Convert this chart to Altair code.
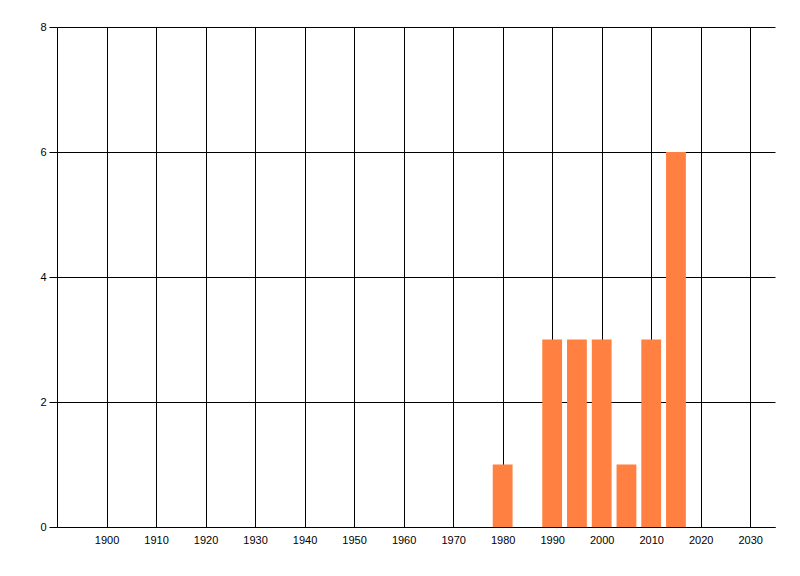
import altair as alt
import pandas as pd

years = [1980, 1990, 1995, 2000, 2005, 2010, 2015]
counts = [1, 3, 3, 3, 1, 3, 6]
x_ticks = [1900, 1910, 1920, 1930, 1940, 1950, 1960, 1970, 1980, 1990, 2000, 2010, 2020, 2030]
y_ticks = [0, 2, 4, 6, 8]
half_width = 2

df = pd.DataFrame({"year": years, "count": counts})
df["x0"] = df["year"] - half_width
df["x1"] = df["year"] + half_width
df["base"] = 0

font = "Liberation Sans"

chart = alt.Chart(df).mark_rect(color="#FF8040", opacity=1).encode(
    x=alt.X("x0:Q", scale=alt.Scale(domain=[1890, 2035], nice=False, zero=False),
            axis=alt.Axis(values=x_ticks, format="d", title=None, grid=True,
                          gridColor="black", gridOpacity=1, gridWidth=1,
                          domainColor="black", domainWidth=1, tickSize=0,
                          labelPadding=7, labelFont=font, labelFontSize=11,
                          labelColor="black", labelFlush=False)),
    x2="x1:Q",
    y=alt.Y("count:Q", scale=alt.Scale(domain=[0, 8], nice=False),
            axis=alt.Axis(values=y_ticks, title=None, grid=True,
                          gridColor="black", gridOpacity=1, gridWidth=1,
                          domainColor="black", domainWidth=1, tickSize=8,
                          tickColor="black", labelPadding=3, labelFont=font,
                          labelFontSize=11, labelColor="black")),
    y2="base:Q",
).properties(
    width=718, height=500,
    autosize=alt.AutoSizeParams(type="none"),
    padding={"left": 49, "top": 19, "right": 10, "bottom": 40},
).configure_view(stroke=None)

chart.save("out.html", embed_options={"renderer": "svg", "actions": False})
